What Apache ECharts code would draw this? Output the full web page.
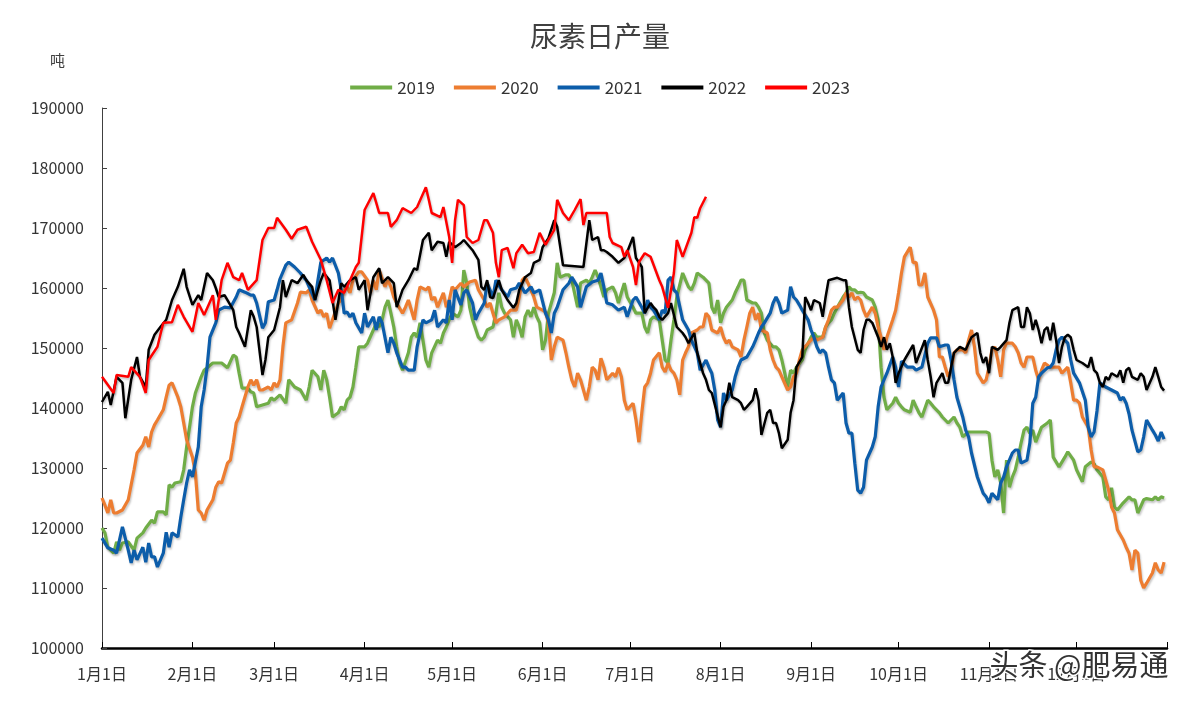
<!DOCTYPE html>
<html>
<head>
<meta charset="utf-8">
<title>尿素日产量</title>
<script src="https://cdn.jsdelivr.net/npm/echarts@6/dist/echarts.min.js"></script>
<style>
	html, body { margin: 0; padding: 0; background: #fff; }
	#echart { width: 1200px; height: 706px; }
</style>
</head>
<body>
<div id="echart"></div>
<script>
// 月份刻度（一年中的第几天）
var monthDays = [0, 31, 59, 90, 120, 151, 181, 212, 243, 273, 304, 334];
var monthLabels = ['1月1日', '2月1日', '3月1日', '4月1日', '5月1日', '6月1日', '7月1日', '8月1日', '9月1日', '10月1日', '11月1日', '12月1日'];
var years = ['2019', '2020', '2021', '2022', '2023'];
var colors = ['#70AD47', '#ED7D31', '#0C5DAA', '#000000', '#FF0000'];

// [第几天, 日产量(吨)]
var data2019 = [[0,120000],[1,119200],[2,116800],[4,115800],[5,117700],[6,116300],[7,117500],[9,117700],[11,116300],[12,118300],[14,119200],[15,120000],[17,121300],[18,120800],[19,122700],[21,122700],[22,122200],[23,127200],[24,126800],[25,127500],[27,127700],[28,129700],[29,133500],[30,136800],[31,140200],[32,142500],[34,145200],[35,146300],[38,147500],[39,147500],[41,147500],[43,146700],[45,148800],[46,148500],[47,145800],[48,143300],[50,143300],[51,142700],[52,142500],[53,140200],[55,140500],[57,140800],[58,141700],[59,141300],[61,142200],[63,140800],[64,144700],[66,143500],[68,143000],[70,141300],[71,143500],[72,146300],[74,145200],[75,143000],[76,146300],[77,144700],[78,141800],[79,138500],[81,139200],[82,140200],[83,139700],[84,141300],[85,141800],[86,143500],[87,146800],[88,150200],[90,150200],[91,150800],[93,153000],[94,154200],[95,153500],[96,154700],[97,156800],[98,158000],[99,155800],[100,153500],[101,150200],[102,147500],[103,146300],[105,149200],[106,151800],[107,152500],[108,151800],[109,154200],[110,151300],[111,148000],[112,146800],[113,149200],[115,151300],[116,150800],[117,152500],[118,153500],[119,154700],[120,155800],[122,155200],[123,156300],[124,163000],[125,160800],[126,156800],[127,154700],[129,151800],[130,151300],[131,151800],[132,153000],[134,153500],[135,155800],[136,159200],[137,156800],[138,155800],[140,154700],[141,151800],[142,154700],[143,153500],[144,151800],[145,155200],[146,156300],[147,155200],[148,156800],[149,155200],[150,154200],[151,149700],[152,151300],[153,155800],[155,159200],[156,164200],[157,161800],[159,162200],[160,162200],[161,161300],[163,156800],[164,160800],[166,161300],[167,160800],[168,161800],[169,163000],[170,161800],[171,160200],[172,158500],[173,159700],[175,160200],[176,159200],[177,157500],[178,159200],[179,160800],[180,158500],[182,156800],[183,155800],[185,155800],[186,153500],[187,152500],[188,154700],[189,155200],[191,154700],[192,151300],[193,148000],[194,147500],[195,151300],[196,154700],[197,158500],[199,162500],[200,161300],[201,160200],[202,159700],[203,160800],[204,162500],[206,161800],[207,161300],[208,160800],[209,156800],[210,155800],[211,158000],[212,154200],[213,155800],[214,156800],[216,158000],[217,159200],[218,160200],[219,161300],[220,161300],[221,158000],[223,157500],[224,157500],[225,156800],[226,155800],[227,152500],[228,151300],[230,150200],[231,150200],[232,149700],[233,148000],[234,145800],[235,143500],[236,146300],[237,145800],[238,146800],[240,148000],[241,149700],[242,150800],[243,151800],[244,152500],[245,151800],[247,151800],[248,153500],[249,154200],[250,154700],[251,155800],[252,156800],[254,158500],[255,159200],[256,160200],[257,159700],[258,159700],[259,159200],[260,159300],[261,159200],[262,158500],[264,158000],[265,156800],[266,154700],[267,146800],[268,141800],[269,139700],[271,140800],[272,141800],[273,140800],[274,140200],[275,139700],[277,139300],[278,141300],[279,140200],[280,139200],[281,138500],[283,141300],[284,140800],[285,140200],[286,139700],[287,139200],[288,138500],[290,137500],[291,138000],[292,138500],[293,137500],[294,136800],[295,135200],[297,136000],[300,136000],[303,136000],[304,135800],[305,131300],[306,128500],[307,129700],[308,127500],[309,122500],[310,131300],[311,126800],[312,128500],[313,129700],[314,131800],[315,134200],[316,136300],[317,136800],[318,135800],[319,136300],[320,134300],[322,136800],[324,137500],[325,138000],[326,131800],[328,130200],[330,131800],[331,132700],[333,131300],[334,129700],[336,127700],[337,130200],[339,131000],[340,130700],[341,129700],[343,128500],[344,125200],[345,124700],[346,126700],[347,123500],[348,123000],[350,124200],[352,125200],[353,124700],[354,124700],[355,122500],[357,124700],[358,124900],[360,124700],[361,125200],[362,124700],[363,125200],[364,125000]];

var data2020 = [[0,125000],[1,123800],[2,122500],[3,124700],[4,122500],[5,122500],[7,123000],[9,124700],[10,127200],[11,129700],[12,132500],[14,133800],[15,135200],[16,133500],[17,136000],[18,137200],[19,138000],[21,139700],[22,141800],[23,143800],[24,144200],[25,143000],[26,141800],[27,140200],[28,137500],[29,134700],[31,131800],[32,129200],[33,123000],[34,122500],[35,121300],[36,123000],[38,124700],[39,126800],[40,127700],[41,127500],[43,130800],[44,131300],[45,134200],[46,137500],[47,138500],[48,140200],[50,143500],[51,144700],[52,143800],[53,144700],[54,143000],[55,143000],[57,143500],[58,143000],[59,144200],[60,143500],[61,144700],[62,150200],[63,154200],[65,154700],[67,157500],[68,159300],[70,159200],[71,159700],[72,158000],[74,155800],[75,156300],[76,155200],[77,155800],[78,153300],[79,154700],[81,157500],[82,158000],[83,159700],[84,160200],[85,159200],[86,161300],[88,162700],[89,162700],[91,161300],[92,159200],[93,161300],[94,159700],[95,163000],[97,160200],[98,161300],[99,160200],[100,158500],[101,157500],[103,155800],[104,156800],[105,158000],[107,154700],[108,158000],[109,160200],[111,159700],[112,160200],[113,158000],[114,158500],[115,156800],[117,159200],[118,156800],[119,158000],[120,160200],[121,159700],[123,160800],[124,160200],[126,161000],[128,161300],[129,159700],[131,158000],[132,156800],[133,157500],[134,155800],[135,154200],[136,154700],[138,155200],[140,156300],[142,156300],[143,158500],[144,161300],[145,161800],[146,160800],[148,158500],[149,156800],[151,156300],[152,156000],[153,154200],[154,148000],[155,150200],[156,151800],[158,151300],[159,149200],[160,146800],[161,144700],[162,143500],[163,145800],[164,144700],[166,141300],[167,143500],[168,146800],[169,146300],[170,144700],[171,148300],[172,146800],[173,144700],[175,145800],[176,145200],[177,146700],[178,145200],[179,141300],[180,139700],[182,140800],[183,138000],[184,134300],[185,139200],[186,143500],[187,144200],[188,145800],[189,148000],[191,149200],[192,146800],[193,146000],[194,147500],[195,146300],[196,145800],[197,144700],[198,142200],[199,148000],[200,149200],[201,150200],[202,152500],[204,153000],[205,153500],[206,153500],[207,155800],[208,155200],[209,153000],[211,152500],[212,153500],[213,151800],[214,150800],[215,151300],[216,150200],[218,149700],[219,148500],[220,151300],[221,153500],[222,155800],[223,156800],[224,154700],[225,155800],[226,153000],[228,152500],[229,149700],[230,148000],[231,146800],[232,146300],[233,145200],[235,143000],[236,143500],[237,145200],[238,145800],[239,148000],[240,149700],[242,150800],[243,151300],[244,151800],[245,151300],[247,151800],[248,153500],[249,154700],[250,156300],[251,156800],[252,156800],[254,158000],[255,159200],[256,158500],[257,159200],[258,158000],[259,158500],[260,158000],[261,156300],[262,155200],[264,156800],[265,155800],[266,153500],[267,151800],[268,149700],[269,151800],[271,154700],[272,156300],[273,159200],[274,162500],[275,165200],[277,166800],[278,164200],[279,164300],[280,160500],[281,160500],[282,162500],[283,158500],[285,156300],[286,154700],[287,148500],[288,148500],[289,146800],[290,145200],[291,146300],[292,149200],[293,149700],[295,149700],[296,149200],[297,151300],[298,153000],[299,150200],[300,145800],[302,144200],[303,144700],[304,146800],[305,149700],[306,150200],[307,148000],[308,145200],[309,149700],[310,150800],[312,150800],[313,150200],[314,149200],[315,147500],[316,146800],[317,148500],[319,148500],[320,146300],[321,144700],[322,146300],[323,147500],[325,146800],[327,146800],[328,146800],[329,145800],[331,146800],[332,144200],[333,141300],[334,141300],[335,140800],[336,138500],[338,136800],[339,133000],[340,130200],[341,130200],[343,129700],[344,128000],[345,126300],[346,123500],[347,122500],[348,119700],[350,118000],[351,116800],[352,115800],[353,113000],[354,116300],[355,115800],[356,111300],[357,110000],[358,110800],[360,112500],[361,114200],[362,113000],[363,112500],[364,114300]];

var data2021 = [[0,118300],[2,116700],[4,116300],[5,115800],[7,120200],[9,116300],[10,114200],[11,116300],[12,114700],[14,116800],[15,114300],[16,117500],[17,115200],[18,115200],[19,113500],[21,115800],[22,119300],[23,116800],[24,119200],[26,118500],[27,121800],[28,124700],[29,127500],[30,129700],[31,128500],[33,133500],[34,140200],[35,143000],[36,146800],[37,151800],[39,154200],[40,156300],[42,156800],[44,156700],[46,158500],[47,159700],[49,159300],[51,158800],[52,158800],[53,157500],[55,153300],[56,154200],[57,157700],[59,158000],[60,159700],[61,161500],[63,163800],[64,164300],[66,163500],[68,162500],[70,161300],[71,160200],[73,158000],[74,161300],[75,164300],[77,165000],[78,164300],[79,165000],[81,162500],[82,159700],[83,155800],[84,156000],[85,155200],[86,155800],[87,154200],[89,152500],[90,155800],[91,153500],[93,155200],[94,153000],[95,155200],[96,154200],[98,149200],[99,151800],[100,150800],[101,149200],[103,146800],[104,146800],[105,146300],[107,146300],[108,150200],[110,154700],[111,154200],[113,154700],[114,156300],[115,153500],[117,154700],[118,154200],[119,158000],[120,154700],[121,159700],[123,157200],[124,159200],[125,159700],[127,157500],[128,154700],[129,155800],[131,157500],[132,160800],[134,158500],[135,161300],[137,159700],[139,158500],[140,159700],[142,160000],[143,160800],[145,159200],[147,160200],[148,159200],[150,159700],[152,155800],[153,154700],[154,152500],[155,155800],[156,156800],[158,159700],[160,160800],[161,161800],[163,160200],[164,156800],[166,160200],[168,161000],[170,161300],[171,162500],[172,160200],[173,157500],[175,157200],[177,156300],[179,156800],[180,155200],[182,158000],[183,158500],[185,156800],[186,155800],[187,158000],[188,156800],[189,156300],[191,154700],[192,156300],[193,155800],[194,161300],[195,161800],[196,159700],[197,159200],[199,154700],[201,153000],[202,151300],[204,149200],[205,146300],[207,148000],[208,146800],[209,145800],[210,143000],[211,138000],[212,136800],[213,142500],[214,141300],[216,143000],[217,145200],[218,146800],[219,148000],[221,148500],[223,150200],[224,151300],[225,152500],[226,153500],[227,154200],[229,155800],[230,157500],[231,158500],[232,157500],[233,155800],[235,156300],[236,160200],[237,158500],[238,158000],[239,157200],[240,156300],[242,154700],[243,153000],[244,151800],[245,150200],[246,149200],[247,149700],[248,149200],[249,146800],[250,144700],[251,144200],[252,141300],[254,142500],[255,137500],[256,135800],[257,135800],[258,130800],[259,126300],[260,125800],[261,126800],[262,131300],[264,133500],[265,135200],[266,140200],[267,143500],[268,144700],[269,145800],[271,148500],[272,146800],[273,143500],[274,147800],[276,146800],[278,146800],[279,146300],[281,146800],[283,150800],[284,151700],[286,151700],[287,150200],[289,150500],[290,150500],[291,148000],[292,144700],[293,141800],[295,138500],[296,136300],[297,135200],[298,132500],[300,128500],[302,125800],[303,125200],[304,124200],[305,125800],[307,124700],[308,127500],[309,128500],[310,130200],[312,132500],[313,133000],[314,133000],[315,130800],[317,131300],[318,134200],[319,140800],[320,141800],[321,145200],[322,145800],[324,146700],[325,146800],[326,147500],[327,149700],[328,151300],[329,151800],[331,150800],[332,148000],[333,145800],[335,144200],[337,141300],[338,136800],[339,135200],[340,136000],[341,139500],[342,144200],[344,143500],[346,143000],[348,142500],[349,141300],[350,141800],[351,140800],[352,139000],[353,136300],[355,132700],[356,133000],[357,135200],[358,138000],[360,136300],[361,135500],[362,134500],[363,136000],[364,134800]];

var data2022 = [[0,141000],[2,142700],[3,140500],[5,145200],[7,144200],[8,138300],[10,144700],[12,148500],[13,145200],[15,143500],[16,149700],[18,152200],[20,153500],[22,154700],[24,158000],[26,160200],[28,163200],[29,160200],[31,157200],[33,158800],[34,158000],[36,162500],[38,161300],[39,160000],[40,158500],[42,158800],[45,156300],[46,153500],[47,152500],[49,150200],[51,156300],[52,155200],[53,153500],[55,145500],[56,148000],[57,151800],[59,153000],[61,156800],[62,161300],[63,158500],[65,161300],[67,160800],[69,162200],[70,161300],[72,160200],[73,158000],[75,161300],[76,162500],[78,161300],[80,154700],[82,160800],[83,160200],[85,161300],[87,161800],[88,159700],[90,161300],[91,156300],[93,161800],[95,163300],[96,160800],[98,161800],[100,160800],[101,156800],[103,159700],[105,161300],[107,163300],[108,163000],[110,168000],[112,169200],[113,166300],[115,167700],[117,167500],[118,165200],[119,167700],[121,166800],[123,167500],[124,168000],[127,166300],[129,164700],[130,160200],[131,159700],[132,161300],[133,158500],[134,158300],[136,161300],[137,159700],[139,158000],[141,156700],[142,157500],[143,159700],[145,161800],[147,162500],[148,164200],[150,164700],[151,166800],[153,168300],[155,171300],[156,170200],[158,163800],[165,163500],[167,171300],[168,168000],[170,168500],[171,166300],[172,166300],[173,166000],[175,165200],[177,164200],[179,165000],[180,166000],[182,168500],[183,165000],[184,164300],[185,163500],[186,155800],[188,157500],[189,156800],[190,156300],[191,155200],[192,154700],[194,155800],[195,157500],[197,153500],[199,152500],[200,151800],[201,150800],[203,152500],[204,149200],[206,145800],[207,144700],[208,143000],[209,142500],[212,136800],[213,140200],[214,141300],[215,144200],[216,141800],[218,141300],[219,140800],[220,139700],[221,140200],[223,141300],[224,143300],[225,141300],[226,135500],[228,139200],[229,139700],[230,137500],[231,137500],[232,135800],[233,133300],[235,134700],[236,139200],[237,141300],[238,146800],[240,148500],[241,158500],[242,157500],[243,156300],[244,158000],[246,157500],[247,155200],[248,158500],[249,161300],[252,161700],[254,161300],[255,161300],[256,156800],[257,153500],[259,149700],[260,149200],[261,153000],[262,154700],[263,154700],[264,154200],[266,151800],[267,150200],[268,151800],[269,149700],[270,150800],[271,148500],[272,144200],[273,145800],[275,148000],[278,150500],[279,147500],[282,151300],[283,148000],[284,145200],[285,141800],[286,144200],[288,145800],[289,144200],[290,144200],[291,146800],[292,149200],[294,150200],[296,149700],[297,150800],[298,151800],[300,152500],[301,149200],[302,147500],[303,148500],[304,145800],[305,150200],[307,149700],[308,150200],[310,151300],[311,154200],[312,156300],[314,156800],[315,153500],[316,153500],[317,156800],[318,155800],[319,153000],[320,154700],[321,153000],[322,150800],[323,153000],[324,153500],[325,151300],[326,154200],[327,151300],[328,147500],[329,150200],[330,151800],[331,152200],[332,151800],[333,149700],[334,148000],[336,147500],[338,146800],[339,148500],[340,146300],[341,145800],[342,144200],[343,143500],[344,145200],[345,144700],[346,145800],[348,145200],[349,146300],[350,144200],[351,146300],[352,146700],[353,145200],[355,144700],[356,145800],[357,145200],[358,143000],[360,145200],[361,146800],[362,145200],[363,143500],[364,142900]];

var data2023 = [[0,145200],[4,142500],[5,145500],[9,145200],[10,146800],[13,145200],[15,142500],[16,148000],[19,150200],[21,154200],[24,154300],[26,157200],[28,155200],[31,152700],[33,157500],[35,155500],[38,158800],[39,154700],[41,161300],[43,164200],[45,161800],[47,161300],[48,162500],[50,159700],[53,161300],[55,168000],[57,170000],[59,170000],[60,171700],[63,169700],[65,168200],[67,169700],[70,170200],[72,167700],[75,164700],[77,161300],[79,157500],[81,159700],[83,159200],[85,161300],[87,163500],[88,164200],[90,173000],[93,175800],[94,174200],[95,172500],[98,172500],[99,170200],[101,171300],[103,173300],[106,172500],[108,173500],[111,176800],[112,174700],[113,172500],[116,171800],[117,173500],[119,168500],[120,164200],[121,171300],[122,174700],[124,173800],[125,168500],[127,167500],[129,168000],[131,171300],[132,171300],[134,169200],[135,164200],[136,161800],[137,166300],[139,166700],[141,163300],[142,165800],[144,167200],[146,165800],[148,166000],[150,169200],[152,167200],[155,169700],[156,174700],[158,172500],[160,171300],[162,173000],[164,174800],[165,170500],[166,172500],[173,172500],[174,168500],[175,167500],[178,166800],[179,165200],[180,166300],[182,163500],[183,160500],[184,164300],[186,165800],[188,165200],[191,161300],[192,160200],[194,156700],[196,162500],[197,168000],[199,165200],[202,169200],[203,171800],[204,171700],[205,173300],[207,175200]];

var allData = [data2019, data2020, data2021, data2022, data2023];

var myChart = echarts.init(document.getElementById('echart'), null, { renderer: 'canvas' });
var fontCN = '"Noto Sans CJK SC", "Noto Sans", sans-serif';

var series = [];
for (var i = 0; i < years.length; i++) {
	series.push({
		name: years[i],
		type: 'line',
		data: allData[i],
		showSymbol: false,
		symbol: 'none',
		smooth: false,
		z: 2 + i,
		lineStyle: {
			color: colors[i],
			width: i >= 3 ? 2.5 : 3.2,
			shadowColor: 'rgba(0,0,0,0.22)',
			shadowBlur: 2,
			shadowOffsetX: 1,
			shadowOffsetY: 2
		},
		itemStyle: { color: colors[i] }
	});
}

var option = {
	animation: false,
	backgroundColor: '#fff',
	textStyle: { fontFamily: fontCN },
	title: [{
		text: '尿素日产量',
		left: 'center',
		top: 17,
		textStyle: { fontSize: 28, fontWeight: 'normal', color: '#404040', fontFamily: fontCN }
	}, {
		text: '吨',
		left: 45,
		top: 48,
		textStyle: { fontSize: 15, fontWeight: 'normal', color: '#404040', fontFamily: fontCN }
	}],
	legend: {
		data: years,
		top: 74,
		left: 'center',
		icon: 'rect',
		itemWidth: 42,
		itemHeight: 4,
		itemGap: 19,
		textStyle: { fontSize: 17, color: '#333', fontFamily: fontCN }
	},
	grid: {
		left: 102,
		right: 33,
		top: 108,
		bottom: 58
	},
	xAxis: {
		type: 'value',
		min: 0,
		max: 365,
		splitLine: { show: false },
		axisLine: { show: true, lineStyle: { color: '#000', width: 2.5 } },
		axisTick: {
			show: true,
			inside: true,
			length: 6,
			customValues: monthDays.concat([365]),
			lineStyle: { color: '#000', width: 1 }
		},
		axisLabel: {
			customValues: monthDays,
			margin: 18,
			fontSize: 16,
			color: '#333',
			fontFamily: fontCN,
			formatter: function (v) {
				var idx = monthDays.indexOf(v);
				return idx >= 0 ? monthLabels[idx] : '';
			}
		}
	},
	yAxis: {
		type: 'value',
		min: 100000,
		max: 190000,
		interval: 10000,
		splitLine: { show: false },
		axisLine: { show: true, lineStyle: { color: '#404040', width: 1 } },
		axisTick: { show: true, inside: true, length: 5, lineStyle: { color: '#404040' } },
		axisLabel: {
			margin: 18,
			fontSize: 16,
			color: '#333',
			fontFamily: fontCN,
			formatter: function (v) { return String(v); }
		}
	},
	// 水印
	graphic: [{
		type: 'text',
		left: 988,
		top: 649,
		z: 100,
		style: {
			text: '头条 @肥易通',
			font: '29px "Noto Sans CJK SC"',
			fill: '#333',
			stroke: '#fff',
			lineWidth: 3
		}
	}],
	series: series
};

myChart.setOption(option);
</script>
</body>
</html>
